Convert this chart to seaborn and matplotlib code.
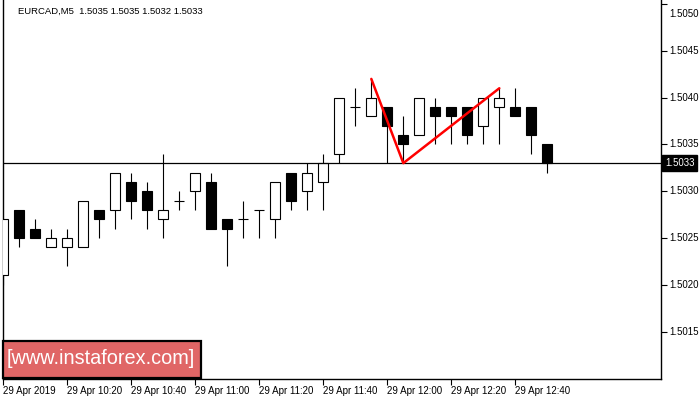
import matplotlib
matplotlib.use("Agg")
import matplotlib.pyplot as plt
import seaborn as sns
import numpy as np
import pandas as pd
from matplotlib.patches import Rectangle
from matplotlib.transforms import blended_transform_factory, ScaledTranslation

# ---- data ----
opens  = [1.5021, 1.5028, 1.5026, 1.5024, 1.5024, 1.5024, 1.5028, 1.5028, 1.5031, 1.5030,
          1.5027, 1.5029, 1.5030, 1.5031, 1.5027, 1.5027, 1.5028, 1.5027, 1.5032, 1.5030,
          1.5031, 1.5034, 1.5039, 1.5038, 1.5039, 1.5036, 1.5036, 1.5039, 1.5039, 1.5039,
          1.5037, 1.5039, 1.5039, 1.5039, 1.5035]
highs  = [1.5027, 1.5028, 1.5027, 1.5026, 1.5026, 1.5029, 1.5028, 1.5032, 1.5032, 1.5031,
          1.5034, 1.5030, 1.5032, 1.5032, 1.5027, 1.5029, 1.5028, 1.5031, 1.5032, 1.5033,
          1.5034, 1.5040, 1.5041, 1.5042, 1.5039, 1.5038, 1.5040, 1.5040, 1.5039, 1.5039,
          1.5040, 1.5041, 1.5041, 1.5039, 1.5035]
lows   = [1.5020, 1.5024, 1.5025, 1.5024, 1.5022, 1.5024, 1.5025, 1.5026, 1.5027, 1.5026,
          1.5025, 1.5028, 1.5028, 1.5026, 1.5022, 1.5025, 1.5025, 1.5025, 1.5028, 1.5028,
          1.5028, 1.5033, 1.5037, 1.5038, 1.5033, 1.5033, 1.5036, 1.5035, 1.5035, 1.5035,
          1.5035, 1.5035, 1.5038, 1.5034, 1.5032]
closes = [1.5027, 1.5025, 1.5025, 1.5025, 1.5025, 1.5029, 1.5027, 1.5032, 1.5029, 1.5028,
          1.5028, 1.5029, 1.5032, 1.5026, 1.5026, 1.5027, 1.5028, 1.5031, 1.5029, 1.5032,
          1.5033, 1.5040, 1.5039, 1.5040, 1.5037, 1.5035, 1.5040, 1.5038, 1.5038, 1.5036,
          1.5040, 1.5040, 1.5038, 1.5036, 1.5033]

tick_positions = [0, 4, 8, 12, 16, 20, 24, 28, 32]
tick_labels = ["29 Apr 2019", "29 Apr 10:20", "29 Apr 10:40", "29 Apr 11:00", "29 Apr 11:20",
               "29 Apr 11:40", "29 Apr 12:00", "29 Apr 12:20", "29 Apr 12:40"]
y_ticks = [1.5015, 1.5020, 1.5025, 1.5030, 1.5035, 1.5040, 1.5045, 1.5050]

pattern_x = [23, 25, 31]
pattern_y = [1.5042, 1.5033, 1.5041]
current_price = 1.5033
title = "EURCAD,M5  1.5035 1.5035 1.5032 1.5033"

# ---- plot ----
sns.set_theme(style="white")
plt.rcParams['font.family'] = ['Liberation Sans', 'DejaVu Sans']

df = pd.DataFrame({"x": np.arange(len(opens)), "open": opens, "high": highs,
                   "low": lows, "close": closes})

fig = plt.figure(figsize=(7, 4), dpi=100)
fig.patch.set_facecolor("white")
ax = fig.add_axes([3 / 700, 21 / 400, 658 / 700, 379 / 400])
ax.set_facecolor("white")

# wicks
ax.vlines(df["x"], df["low"], df["high"], color="black", linewidth=0.8, zorder=2)
# bodies
bottoms = np.minimum(df["open"], df["close"])
heights = np.abs(df["close"] - df["open"])
colors = ["white" if c >= o else "black" for o, c in zip(df["open"], df["close"])]
ax.bar(df["x"], heights, bottom=bottoms, width=0.62, color=colors,
       edgecolor="black", linewidth=0.8, zorder=3)

# horizontal current price line
ax.axhline(current_price, color="black", linewidth=0.9, zorder=4)

# pattern line
sns.lineplot(x=pattern_x, y=pattern_y, ax=ax, color="#ff0000", linewidth=1.8,
             zorder=5, sort=False)

# axis limits
ax.set_xlim(-0.02, -0.02 + 658 / 16)
ax.set_ylim(1.500994, 1.505043)

# spines
for s in ["left", "right", "bottom"]:
    ax.spines[s].set_visible(True)
    ax.spines[s].set_color("black")
    ax.spines[s].set_linewidth(1.0)
ax.spines["top"].set_visible(False)

# x ticks
ax.set_xticks(tick_positions)
ax.set_xticklabels(tick_labels, ha="left", fontsize=7)
ax.tick_params(axis="x", direction="out", length=4, width=0.8, color="black",
               pad=1, labelcolor="black", bottom=True)

# y ticks on right
ax.yaxis.tick_right()
ax.set_yticks(y_ticks)
ax.set_yticklabels([f"{v:.4f}" for v in y_ticks], fontsize=7)
ax.tick_params(axis="y", direction="out", length=4, width=0.8, color="black",
               pad=2, labelcolor="black", right=True, left=False)
ylabels = ax.get_yticklabels()
for lbl in ylabels:
    lbl.set_verticalalignment("center")
# top label is pushed down so it stays inside the figure
ylabels[-1].set_verticalalignment("top")
ylabels[-1].set_transform(ylabels[-1].get_transform() +
                          ScaledTranslation(0, -5 / 100, fig.dpi_scale_trans))

ax.set_xlabel("")
ax.set_ylabel("")
ax.grid(False)
leg = ax.get_legend()
if leg:
    leg.remove()

# current price box
trans = blended_transform_factory(ax.transAxes, ax.transData)
ax.text(1.0 + 4 / 658, current_price, f"{current_price:.4f}", transform=trans,
        color="white", fontsize=7, va="center", ha="left", clip_on=False,
        bbox=dict(boxstyle="square,pad=0.3", facecolor="black", edgecolor="black"),
        zorder=10)

# title
fig.text(18 / 700, 1 - 11 / 400, title, fontsize=6.8, color="black", va="center", ha="left")

# watermark
rect = Rectangle((3 / 700, 1 - 378 / 400), 198 / 700, 37 / 400, transform=fig.transFigure,
                 facecolor="#e06666", edgecolor="black", linewidth=1.6, zorder=20)
fig.add_artist(rect)
fig.text(101 / 700, 1 - 358 / 400, "[www.instaforex.com]", fontsize=14.3, color="white",
         va="center", ha="center", zorder=21)

fig.savefig("out.png", dpi=100)
